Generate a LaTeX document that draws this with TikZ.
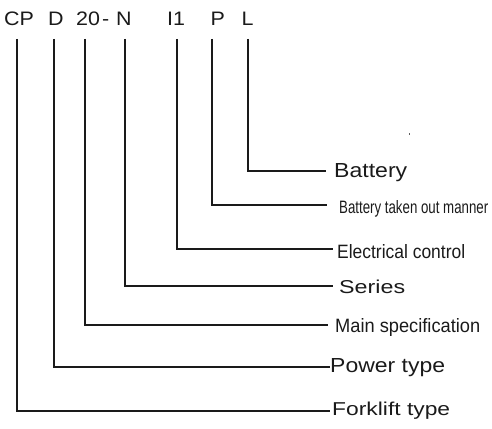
\documentclass[tikz,border=0pt]{standalone}
\usepackage{fontspec}
\setmainfont{Liberation Sans}
\usepackage{graphicx}
\definecolor{ink}{HTML}{1A1A1A}
\newcommand\fitlbl[3]{\resizebox{#1pt}{#2pt}{#3}}
\newcommand\wide[1]{\scalebox{1.1}[1]{#1}}
\begin{document}
\begin{tikzpicture}[x=1pt,y=1pt,
  code/.style={inner sep=0pt,anchor=base west,text=ink,font=\fontsize{19.5}{20}\selectfont},
  lbl/.style={inner sep=0pt,anchor=base west,text=ink},
  link/.style={draw=ink,line width=1.1pt}]
\useasboundingbox (0,0) rectangle (492,-428);
% code letters
\node[code] (cCP) at (4,-26) {\wide{CP}};
\node[code] (cD) at (48,-26) {\wide{D}};
\node[code] (c20) at (76,-26) {\wide{20\kern2pt-}};
\node[code] (cN) at (116,-26) {\wide{N}};
\node[code] (cI) at (167,-26) {\wide{I1}};
\node[code] (cP) at (210.5,-26) {\wide{P}};
\node[code] (cL) at (241.5,-26) {\wide{L}};
% line tops
\coordinate (tCP) at (17,-39);
\coordinate (tD) at (54,-39);
\coordinate (t20) at (85,-39);
\coordinate (tN) at (125,-39);
\coordinate (tI) at (177,-39);
\coordinate (tP) at (212,-39);
\coordinate (tL) at (248,-39);
% line ends
\coordinate (eL) at (326,-171);
\coordinate (eP) at (327,-205);
\coordinate (eI) at (333,-249);
\coordinate (eN) at (333,-286);
\coordinate (e20) at (328,-325);
\coordinate (eD) at (330,-367);
\coordinate (eCP) at (330,-411);
% labels
\node[lbl] (lL) at (334,-177) {\fitlbl{73}{14}{Battery}};
\node[lbl] (lP) at (339,-213.5) {\fitlbl{149}{13}{Battery taken out manner}};
\node[lbl] (lI) at (337,-258) {\fitlbl{128}{14}{Electrical control}};
\node[lbl] (lN) at (339,-293) {\fitlbl{66}{13.5}{Series}};
\node[lbl] (l20) at (335,-332) {\fitlbl{145}{14}{Main specification}};
\node[lbl] (lD) at (330,-372) {\fitlbl{115}{14}{Power type}};
\node[lbl] (lCP) at (332,-415.5) {\fitlbl{118}{13.5}{Forklift type}};
% connectors
\draw[link] (tL) |- (eL);
\draw[link] (tP) |- (eP);
\draw[link] (tI) |- (eI);
\draw[link] (tN) |- (eN);
\draw[link] (t20) |- (e20);
\draw[link] (tD) |- (eD);
\draw[link] (tCP) |- (eCP);
% speck
\fill[ink!70] (408.5,-133) rectangle (409.5,-135);
\end{tikzpicture}
\end{document}
